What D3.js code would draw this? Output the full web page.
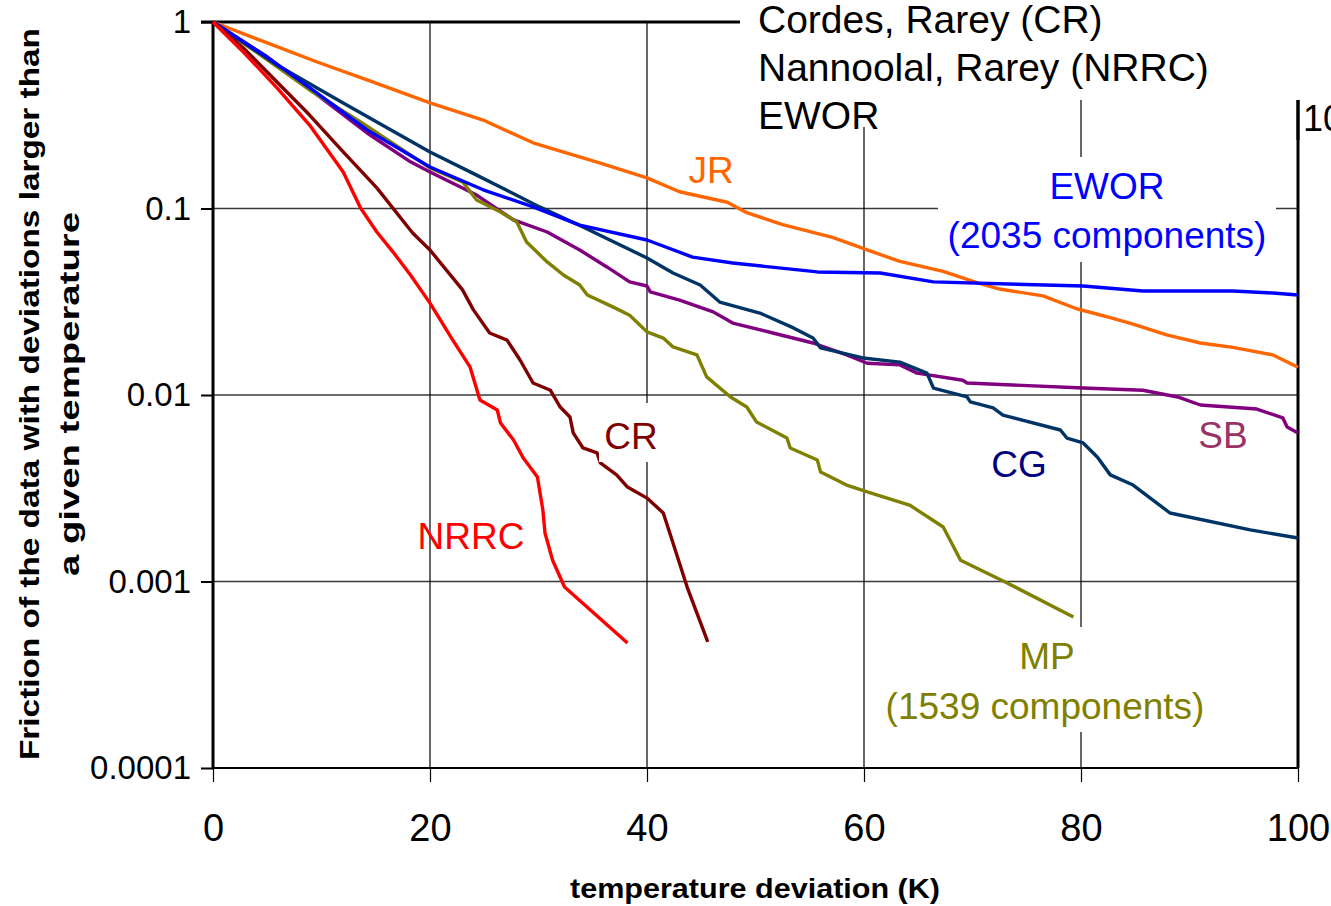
<!DOCTYPE html>
<meta charset="utf-8">
<script src="https://d3js.org/d3.v7.min.js"></script>
<style>
  body { margin: 0; background: #fff; }
  text { font-family: "Liberation Sans", Arial, sans-serif; }
</style>
<div id="chart"></div>
<script>
  // values: [temperature deviation (K), fraction]
  const jrData = [[0,1],[5.0,0.772],[9.6,0.610],[14.2,0.489],[20.0,0.368],[24.9,0.298],[29.5,0.225],[35.7,0.175],[40.0,0.146],[43.0,0.123],[47.4,0.108],[49.2,0.095],[52.5,0.082],[57.1,0.070],[60.3,0.060],[63.3,0.052],[67.3,0.046],[70.4,0.040],[72.5,0.037],[76.5,0.034],[79.6,0.029],[82.7,0.026],[84.8,0.024],[87.9,0.021],[91.0,0.019],[94.0,0.018],[97.7,0.0164],[100,0.0141]];
  const eworData = [[0,1],[5.0,0.649],[9.6,0.416],[14.2,0.264],[20,0.167],[24.9,0.126],[29.5,0.102],[33.8,0.0815],[40,0.0678],[44.2,0.0549],[47.9,0.051],[55.7,0.0457],[61.5,0.0451],[66.4,0.0404],[80.2,0.0384],[85.7,0.0361],[94.0,0.0361],[97.7,0.0352],[100,0.0344]];
  const cgData = [[0,1],[5.9,0.588],[12.0,0.368],[15.1,0.291],[20,0.201],[24.3,0.151],[30.1,0.102],[34.1,0.0796],[40,0.0543],[42.4,0.0451],[44.9,0.0389],[46.7,0.0315],[50.4,0.0275],[53.5,0.0229],[55.3,0.0202],[56.0,0.0179],[59.9,0.0158],[63.3,0.0150],[65.8,0.0131],[66.4,0.0109],[69.5,0.00976],[69.8,0.00918],[71.9,0.00852],[72.8,0.00781],[78.1,0.00649],[78.7,0.00588],[80.2,0.00553],[81.5,0.00465],[82.7,0.00373],[84.8,0.00329],[88.2,0.00233],[95.6,0.00189],[100,0.00171]];
  const sbData = [[0,1],[5.0,0.649],[9.6,0.406],[14.2,0.254],[18.2,0.178],[20,0.157],[24.3,0.118],[27.7,0.0868],[30.8,0.0748],[33.8,0.0599],[36.3,0.0486],[38.4,0.0404],[40,0.0384],[40.3,0.0357],[43.0,0.0323],[46.1,0.0279],[47.9,0.0243],[51.6,0.0215],[55.3,0.019],[58.4,0.0164],[60.3,0.0148],[63.3,0.0145],[64.9,0.0131],[69.1,0.012],[69.5,0.0116],[80.2,0.0109],[85.7,0.0106],[88.9,0.00976],[91.0,0.00884],[96.2,0.00841],[98.6,0.00753],[99.0,0.00674],[100,0.00626]];
  const mpData = [[0,1],[5.3,0.610],[8.9,0.432],[13.6,0.291],[20,0.165],[23.0,0.139],[24.3,0.111],[26.5,0.0958],[28.0,0.0846],[28.9,0.0661],[30.8,0.0517],[32.3,0.044],[33.8,0.0389],[34.5,0.0344],[36.9,0.0296],[38.4,0.0268],[40,0.0218],[41.5,0.0202],[42.4,0.0181],[44.6,0.0164],[45.5,0.0125],[47.7,0.00976],[49.2,0.00862],[50.1,0.00716],[52.9,0.00588],[53.2,0.0052],[55.7,0.00448],[56.0,0.00386],[58.4,0.00329],[60.3,0.00302],[64.2,0.00257],[67.3,0.00196],[68.9,0.0013],[73.2,0.000982],[79.3,0.000645]];
  const crData = [[0,1],[2.8,0.725],[5.9,0.477],[8.9,0.317],[12.0,0.201],[15.1,0.129],[18.4,0.0739],[20,0.0599],[23.0,0.0366],[24.0,0.0286],[25.5,0.0215],[27.1,0.0197],[28.3,0.0154],[29.5,0.0116],[31.1,0.0106],[32.0,0.00862],[32.9,0.00762],[33.2,0.00626],[34.1,0.0052],[35.4,0.00489],[35.7,0.00432],[37.2,0.00373],[38.2,0.00321],[40,0.0028],[41.5,0.00233],[42.1,0.00182],[43.7,0.000934],[45.6,0.000474]];
  const nrrcData = [[0,1],[2.8,0.690],[5.9,0.443],[8.9,0.280],[12.0,0.157],[13.6,0.1006],[15.1,0.0748],[16.6,0.0584],[18.2,0.044],[20,0.0311],[22.1,0.0197],[23.7,0.0141],[24.6,0.0094],[26.2,0.00831],[26.5,0.00708],[27.7,0.00574],[28.6,0.00459],[29.9,0.00363],[30.4,0.00242],[30.6,0.00182],[31.3,0.0013],[32.4,0.000934],[38.2,0.000468]];

  const xTicks = [0, 20, 40, 60, 80, 100];
  const yTicks = [1, 0.1, 0.01, 0.001, 0.0001];
  const yTickLabels = ["1", "0.1", "0.01", "0.001", "0.0001"];
  const legendNames = ["Cordes, Rarey (CR)", "Nannoolal, Rarey (NRRC)", "EWOR"];

  const width = 1331, height = 906;
  const svg = d3.select('#chart').append('svg')
                .attr('width', width)
                .attr('height', height);

  const x = d3.scaleLinear().domain([0, 100]).range([213, 1298]);
  const y = d3.scaleLog().domain([0.0001, 1]).range([768, 22]);

  // grid
  svg.append('g').selectAll('line')
    .data(yTicks.slice(1, 4))
    .enter().append('line')
    .attr('x1', x(0)).attr('x2', x(100))
    .attr('y1', d => y(d)).attr('y2', d => y(d))
    .attr('stroke', '#3a3a3a').attr('stroke-width', 1.6);
  svg.append('g').selectAll('line')
    .data(xTicks.slice(1, 5))
    .enter().append('line')
    .attr('x1', d => x(d)).attr('x2', d => x(d))
    .attr('y1', y(1)).attr('y2', y(0.0001))
    .attr('stroke', '#000').attr('stroke-width', 1.2);

  // axes
  const xAxis = svg.append('g')
    .attr('transform', `translate(0,${y(0.0001)})`)
    .call(d3.axisBottom(x).tickValues(xTicks).tickSize(14).tickPadding(32).tickFormat(d3.format('d')));
  xAxis.select('.domain').attr('stroke-width', 2.2).attr('d', `M${x(0)},0H${x(100)}`);
  xAxis.selectAll('.tick line').attr('stroke-width', 1.2);
  xAxis.selectAll('.tick text').attr('font-size', 38).attr('fill', '#000')
    .attr('font-family', '"Liberation Sans", Arial, sans-serif');

  const yAxis = svg.append('g')
    .attr('transform', `translate(${x(0)},0)`)
    .call(d3.axisLeft(y).tickValues(yTicks).tickSize(12).tickPadding(10)
      .tickFormat((d, i) => yTickLabels[i]));
  yAxis.select('.domain').attr('stroke-width', 3).attr('d', `M0,${y(1)}V${y(0.0001)}`);
  yAxis.selectAll('.tick line').attr('stroke-width', 2);
  yAxis.selectAll('.tick text').attr('font-size', 33).attr('fill', '#000')
    .attr('font-family', '"Liberation Sans", Arial, sans-serif');

  // top and right frame
  svg.append('line').attr('x1', x(0) - 12).attr('x2', x(100))
    .attr('y1', y(1)).attr('y2', y(1)).attr('stroke', '#000').attr('stroke-width', 3);
  svg.append('line').attr('x1', x(100)).attr('x2', x(100))
    .attr('y1', y(1)).attr('y2', y(0.0001)).attr('stroke', '#000').attr('stroke-width', 3);

  // series
  const line = d3.line().x(d => x(d[0])).y(d => y(d[1]));
  const series = [
    {data: jrData, color: '#FF6600'},
    {data: sbData, color: '#800080'},
    {data: mpData, color: '#808000'},
    {data: cgData, color: '#003366'},
    {data: eworData, color: '#0000FF'},
    {data: crData, color: '#800000'},
    {data: nrrcData, color: '#FF0000'}
  ];
  svg.append('g').selectAll('path')
    .data(series)
    .enter().append('path')
    .attr('d', d => line(d.data))
    .attr('fill', 'none')
    .attr('stroke', d => d.color)
    .attr('stroke-width', 3.4)
    .attr('stroke-linejoin', 'round');

  // label boxes (white, as in the original)
  svg.append('rect').attr('x', 938).attr('y', 157).attr('width', 338).attr('height', 105).attr('fill', '#fff');
  svg.append('rect').attr('x', 599).attr('y', 403).attr('width', 60).attr('height', 59).attr('fill', '#fff');
  svg.append('rect').attr('x', 885).attr('y', 627).attr('width', 320).attr('height', 105).attr('fill', '#fff');

  // curve labels
  const labels = [
    {t: 'JR', x: 711, y: 183, c: '#FF6600'},
    {t: 'EWOR', x: 1107, y: 199, c: '#0000FF'},
    {t: '(2035 components)', x: 1107, y: 248, c: '#0000FF'},
    {t: 'CR', x: 631, y: 449, c: '#800000'},
    {t: 'NRRC', x: 471, y: 549, c: '#FF0000'},
    {t: 'CG', x: 1019, y: 477, c: '#000080'},
    {t: 'SB', x: 1223, y: 448, c: '#993366'},
    {t: 'MP', x: 1047, y: 669, c: '#808000'},
    {t: '(1539 components)', x: 1045, y: 719, c: '#808000'}
  ];
  svg.append('g').selectAll('text')
    .data(labels)
    .enter().append('text')
    .attr('x', d => d.x).attr('y', d => d.y)
    .attr('text-anchor', 'middle')
    .attr('font-size', 37)
    .attr('fill', d => d.c)
    .text(d => d.t);

  // legend (cut-off legend box at the top right)
  svg.append('rect').attr('x', 740).attr('y', 0).attr('width', 600).attr('height', 100).attr('fill', '#fff');
  svg.append('rect').attr('x', 740).attr('y', 0).attr('width', 155).attr('height', 127).attr('fill', '#fff');
  svg.append('line').attr('x1', x(100)).attr('x2', x(100))
    .attr('y1', 100).attr('y2', 140).attr('stroke', '#000').attr('stroke-width', 3);
  svg.append('g').selectAll('text')
    .data(legendNames)
    .enter().append('text')
    .attr('x', 758).attr('y', (d, i) => 33 + i * 48)
    .attr('font-size', 39)
    .attr('fill', '#000')
    .text(d => d);
  svg.append('text').attr('x', 1303).attr('y', 131)
    .attr('font-size', 36).attr('fill', '#000').text('100');

  // axis titles
  svg.append('text')
    .attr('x', 755).attr('y', 898)
    .attr('text-anchor', 'middle')
    .attr('font-size', 28).attr('font-weight', 'bold')
    .attr('textLength', 370).attr('lengthAdjust', 'spacingAndGlyphs')
    .text('temperature deviation (K)');
  const yTitle = svg.append('g').attr('transform', 'translate(0,394) rotate(-90)');
  yTitle.append('text')
    .attr('x', 0).attr('y', 39)
    .attr('text-anchor', 'middle')
    .attr('font-size', 28).attr('font-weight', 'bold')
    .attr('textLength', 732).attr('lengthAdjust', 'spacingAndGlyphs')
    .text('Friction of the data with deviations larger than');
  yTitle.append('text')
    .attr('x', 0).attr('y', 79)
    .attr('text-anchor', 'middle')
    .attr('font-size', 28).attr('font-weight', 'bold')
    .attr('textLength', 364).attr('lengthAdjust', 'spacingAndGlyphs')
    .text('a given temperature');
</script>
